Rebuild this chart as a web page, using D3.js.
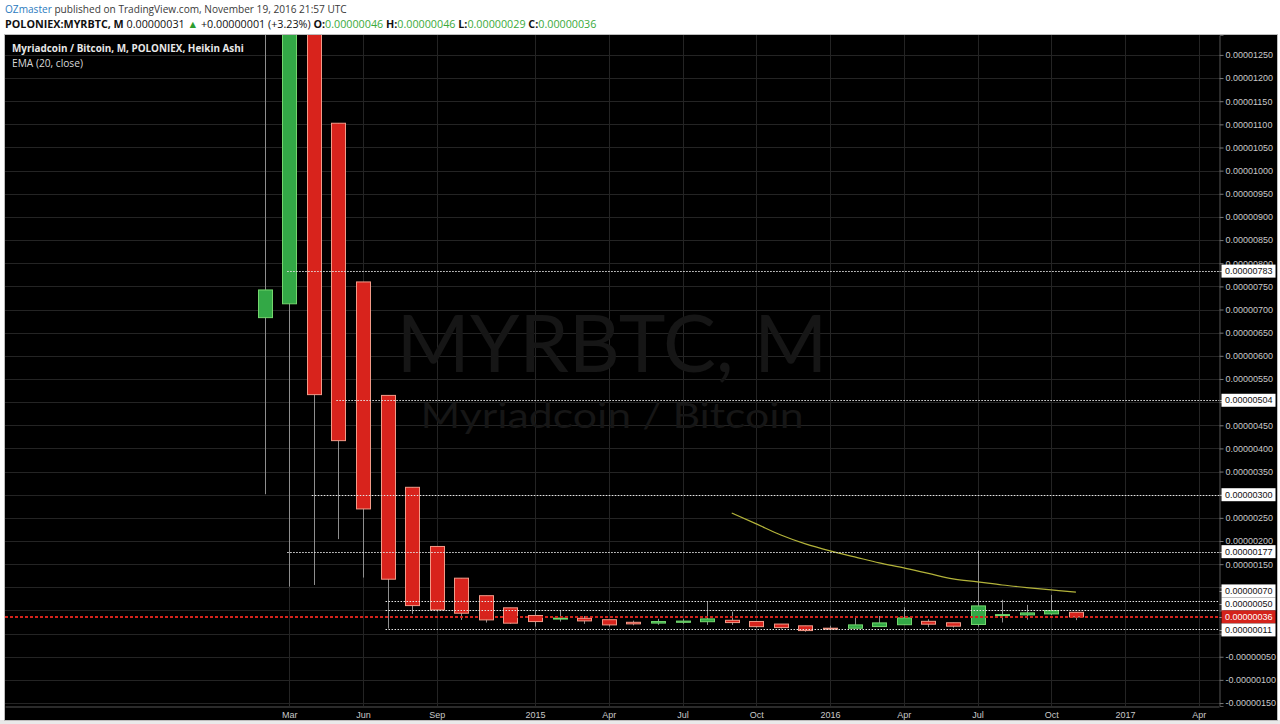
<!DOCTYPE html>
<html><head><meta charset="utf-8">
<script src="https://cdn.jsdelivr.net/npm/d3@7"></script>
<style>
html,body{margin:0;padding:0;background:#fff;}
svg{display:block;}
</style></head><body>
<svg id="c" width="1280" height="724"></svg>
<script>
// ---- data (prices in satoshi, i.e. x 1e-8 BTC) ----
const months = ["2014-02","2014-03","2014-04","2014-05","2014-06","2014-07","2014-08","2014-09","2014-10","2014-11","2014-12",
  "2015-01","2015-02","2015-03","2015-04","2015-05","2015-06","2015-07","2015-08","2015-09","2015-10","2015-11","2015-12",
  "2016-01","2016-02","2016-03","2016-04","2016-05","2016-06","2016-07","2016-08","2016-09","2016-10","2016-11"];
const openV  = [682.5,712.4,1688.6,1102.4,759.6,514.5,316,188.2,119.7,81.9,55.7,
  39.1,32.5,33,30,24.4,22.7,24.4,25.7,28.7,26.2,20.6,16.8,
  11.65,11.6,15.2,19.2,26.5,23.4,19.7,39.75,40.4,42.5,46];
const highV  = [1500,2900,1688.6,1102.4,759.6,514.5,316,188.2,119.7,81.9,55.7,
  49.7,50,38,30,28,32,32,69,47.5,26.2,20.6,16.8,
  17,35.4,38,57,31,23.4,179,73,62,83.6,46];
const lowV   = [301,101.5,105,204,121,11,42.5,47.5,29.6,23.8,21,
  15,26,21,15,18,19,21,18.8,18.8,13,11,4,
  8,11.6,15.2,19.2,13.8,13,15,24,30,40,29];
const closeV = [742.3,2665,516.2,416.8,269.3,117.5,60.5,51.2,44,29.6,22.5,
  26,33.5,27.4,18.8,21,26,27,31.7,23.8,15,13,6.5,
  11.5,18.8,23.1,33.9,20.3,16,59.8,41,44.7,49.7,36];
const emaMonths = ["2015-09","2015-10","2015-11","2015-12","2016-01","2016-02","2016-03","2016-04","2016-05","2016-06","2016-07","2016-08","2016-09","2016-10","2016-11"];
const emaV = [260.6,237,213,193.7,178.6,165.7,152.7,142,130,118,111.7,105,99.4,94.4,89.4];
const levelV = [783,504,300,177,70,50,11];
const levelStart = ["2014-03","2014-05","2014-04","2014-03","2014-07","2014-07","2014-07"];
const lastPrice = 36;
const yTicks = [-150,-100,-50,0,50,100,150,200,250,300,350,400,450,500,550,600,650,700,750,800,850,900,950,1000,1050,1100,1150,1200,1250];
const xTickMonths = ["2014-03","2014-06","2014-09","2015-01","2015-04","2015-07","2015-10","2016-01","2016-04","2016-07","2016-10","2017-01","2017-04"];
const xTickLabels = ["Mar","Jun","Sep","2015","Apr","Jul","Oct","2016","Apr","Jul","Oct","2017","Apr"];

// ---- helpers ----
const mIdx = s => { const [y,m] = s.split("-").map(Number); return (y-2014)*12 + (m-1); };
const fmt = v => (v*1e-8).toFixed(8);
const FONT = "'Liberation Sans', Arial, sans-serif";
const HFONT = "'Open Sans', 'Liberation Sans', Arial, sans-serif";
// scale font-size so a text element spans the target width
function fitWidth(sel, target, base){
  const w = sel.node().getComputedTextLength();
  if (w > 0) sel.attr("font-size", base*target/w);
}

const svg = d3.select("#c");
const P = {l:5, r:1219, t:35, b:706};
const x = d3.scaleLinear().domain([-9.56, 39.82]).range([P.l, P.r]);
const y = d3.scaleLinear().domain([-156.4, 1293]).range([P.b, P.t]);

// background
svg.append("rect").attr("width",1280).attr("height",724).attr("fill","#fff");
svg.append("rect").attr("x",0).attr("y",720).attr("width",1280).attr("height",4).attr("fill","#e9e9e9");
svg.append("rect").attr("x",4.5).attr("y",34.5).attr("width",1273).attr("height",686)
  .attr("fill","#000").attr("stroke","#bdbdbd");

// header
const h1 = svg.append("text").attr("x",5).attr("y",13).attr("font-family",HFONT).attr("font-size",12);
h1.append("tspan").attr("fill","#2b7bc0").text("OZmaster");
h1.append("tspan").attr("fill","#3a3a3a").text(" published on TradingView.com, November 19, 2016 21:57 UTC");
fitWidth(h1, 342, 12);
const h2 = svg.append("text").attr("x",5).attr("y",28).attr("font-family",HFONT).attr("font-size",12).attr("fill","#111");
h2.append("tspan").attr("font-weight","bold").text("POLONIEX:MYRBTC, M");
h2.append("tspan").text(" 0.00000031 ");
h2.append("tspan").attr("fill","#2e9e2e").text("▲");
h2.append("tspan").text(" +0.00000001 (+3.23%) ");
const ohlc = [["O:","0.00000046"],["H:","0.00000046"],["L:","0.00000029"],["C:","0.00000036"]];
ohlc.forEach((d,i)=>{
  h2.append("tspan").attr("font-weight","bold").text((i? " ":"")+d[0]);
  h2.append("tspan").attr("fill","#3aaa3a").text(d[1]);
});
fitWidth(h2, 592, 12);

// grid
const grid = svg.append("g").attr("stroke","#242424").attr("stroke-width",1);
grid.selectAll("line.h").data(yTicks).join("line")
  .attr("x1",P.l).attr("x2",P.r).attr("y1",d=>Math.round(y(d))+0.5).attr("y2",d=>Math.round(y(d))+0.5);
grid.selectAll("line.v").data(xTickMonths).join("line")
  .attr("y1",P.t).attr("y2",P.b).attr("x1",d=>Math.round(x(mIdx(d)))+0.5).attr("x2",d=>Math.round(x(mIdx(d)))+0.5);

// watermark
svg.append("text").attr("x",612).attr("y",372).attr("text-anchor","middle").attr("font-family","Lato, 'Open Sans', sans-serif")
  .attr("font-size",80).attr("fill","#161616").attr("textLength",431).attr("lengthAdjust","spacingAndGlyphs").text("MYRBTC, M");
svg.append("text").attr("x",612).attr("y",428).attr("text-anchor","middle").attr("font-family","Lato, 'Open Sans', sans-serif")
  .attr("font-size",34).attr("fill","#161616").attr("textLength",383).attr("lengthAdjust","spacingAndGlyphs").text("Myriadcoin / Bitcoin");

// clip
svg.append("clipPath").attr("id","clip").append("rect").attr("x",P.l).attr("y",P.t).attr("width",P.r-P.l).attr("height",P.b-P.t);
const plot = svg.append("g").attr("clip-path","url(#clip)");

const bars = months.map((m,i)=>({i:mIdx(m), o:openV[i], h:highV[i], l:lowV[i], c:closeV[i]}));
const cx = d => Math.round(x(d.i));

// wicks
plot.append("g").attr("stroke","#8e8e8e").attr("stroke-width",1)
  .selectAll("line").data(bars).join("line")
  .attr("x1",d=>cx(d)+0.5).attr("x2",d=>cx(d)+0.5)
  .attr("y1",d=>y(d.h)).attr("y2",d=>y(d.l));
// bodies
plot.append("g").selectAll("rect").data(bars).join("rect")
  .attr("x",d=>cx(d)-7+0.5).attr("width",14)
  .attr("y",d=>Math.min(y(d.o),y(d.c)))
  .attr("height",d=>Math.max(1,Math.abs(y(d.o)-y(d.c))))
  .attr("fill",d=>d.c>=d.o?"#33a846":"#d8231c")
  .attr("stroke",d=>d.c>=d.o?"#74d66e":"#f29a88").attr("stroke-width",1);

// EMA
plot.append("path").datum(emaMonths.map((m,i)=>[mIdx(m),emaV[i]]))
  .attr("fill","none").attr("stroke","#b3b33a").attr("stroke-width",1.2)
  .attr("d",d3.line().x(d=>x(d[0])).y(d=>y(d[1])).curve(d3.curveMonotoneX));

// horizontal levels
plot.append("g").selectAll("line").data(levelV).join("line")
  .attr("x1",(d,i)=>x(mIdx(levelStart[i]))-2).attr("x2",P.r)
  .attr("y1",d=>Math.round(y(d))+0.5).attr("y2",d=>Math.round(y(d))+0.5)
  .attr("stroke","#e6e6e6").attr("stroke-width",1).attr("stroke-dasharray","1.5,1.5");
// last price line
plot.append("line").attr("x1",P.l).attr("x2",P.r)
  .attr("y1",y(lastPrice)).attr("y2",y(lastPrice))
  .attr("stroke","#d4231b").attr("stroke-width",2).attr("stroke-dasharray","3,2");

// legend
const lg1 = svg.append("text").attr("x",12).attr("y",52).attr("font-family",HFONT).attr("font-size",12).attr("font-weight","bold")
  .attr("fill","#e8e8e8").text("Myriadcoin / Bitcoin, M, POLONIEX, Heikin Ashi");
fitWidth(lg1, 232, 12);
const lg2 = svg.append("text").attr("x",12).attr("y",67).attr("font-family",HFONT).attr("font-size",12)
  .attr("fill","#d8d8d8").text("EMA (20, close)");
fitWidth(lg2, 71, 12);

// price-axis label boxes layout
const boxes = levelV.map(v=>({v, y0:y(v), price:false})).concat([{v:lastPrice, y0:y(lastPrice), price:true}]);
boxes.sort((a,b)=>a.y0-b.y0);
const ai = boxes.findIndex(b=>b.price);
boxes[ai].yy = boxes[ai].y0;
for (let k=ai-1;k>=0;k--) boxes[k].yy = Math.min(boxes[k].y0, boxes[k+1].yy-13);
for (let k=ai+1;k<boxes.length;k++) boxes[k].yy = Math.max(boxes[k].y0, boxes[k-1].yy+13);

// axes
const yAxis = d3.axisRight(y).tickValues(yTicks).tickFormat(fmt).tickSize(4).tickPadding(2);
const gy = svg.append("g").attr("transform",`translate(${P.r+0.5},0)`).call(yAxis);
gy.select(".domain").attr("stroke","#555");
gy.selectAll(".tick line").attr("stroke","#777");
gy.selectAll(".tick text").attr("fill","#c8c8c8").attr("font-family",FONT).attr("font-size",9)
  .attr("display",d=>boxes.some(b=>Math.abs(b.yy-y(d))<7.5)?"none":null);

const xAxis = d3.axisBottom(x).tickValues(xTickMonths.map(mIdx)).tickFormat((d,i)=>xTickLabels[i]).tickSize(0).tickPadding(5);
const gx = svg.append("g").attr("transform",`translate(0,${P.b+0.5})`).call(xAxis);
gx.select(".domain").attr("stroke","#555");
gx.selectAll(".tick text").attr("fill","#c8c8c8").attr("font-family",FONT).attr("font-size",9);

// boxes
const gb = svg.append("g");
boxes.forEach(b=>{
  gb.append("line").attr("x1",P.r+0.5).attr("x2",P.r+4.5).attr("y1",Math.round(b.yy)+0.5).attr("y2",Math.round(b.yy)+0.5).attr("stroke","#999");
  gb.append("rect").attr("x",1221.5).attr("y",b.yy-6.5).attr("width",54).attr("height",13)
    .attr("fill",b.price?"#d4231b":"#fff");
  gb.append("text").attr("x",1225).attr("y",b.yy).attr("dy","0.34em").attr("font-family",FONT).attr("font-size",9)
    .attr("fill",b.price?"#fff":"#111").text(fmt(b.v));
});
</script>
</body></html>
